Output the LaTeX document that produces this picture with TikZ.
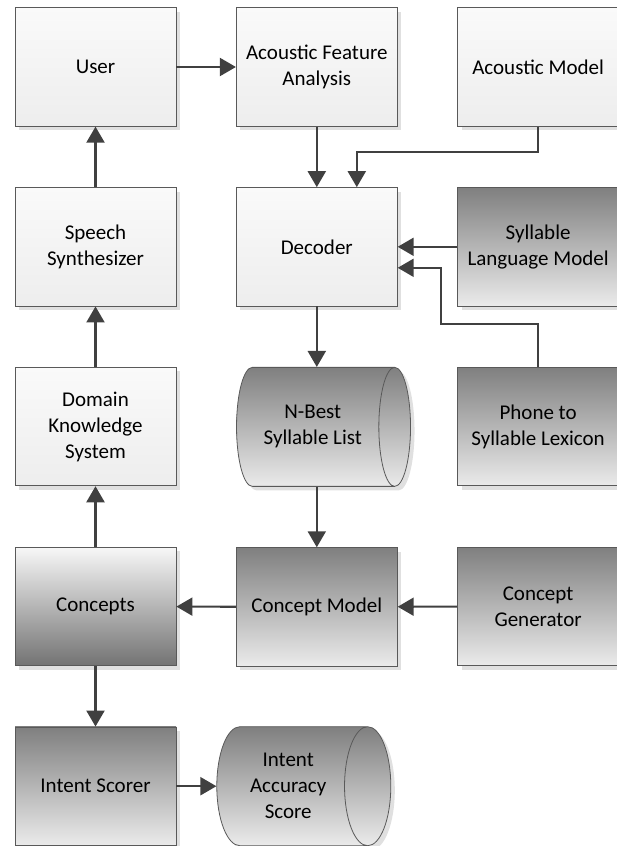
\documentclass[tikz,border=0pt]{standalone}
\usepackage{fontspec}
\setmainfont{Carlito}
\usetikzlibrary{positioning,shapes.geometric,shadows,arrows.meta}
\definecolor{edgegray}{HTML}{404040}
\definecolor{linegray}{HTML}{595959}

\begin{document}
\begin{tikzpicture}[node distance={60.5pt and 59.5pt},
    main/.style = {draw=linegray, line width=0.8pt, rectangle, minimum width=161pt, minimum height=118.5pt, align=center, font=\fontsize{21}{26}\selectfont, drop shadow={shadow xshift=4pt, shadow yshift=-4pt, fill=black!12, opacity=1}},
    light/.style = {main, top color=white!98!black, bottom color=white!93!black},
    dark/.style = {main, top color=black!50, bottom color=white!92!black},
    inv/.style = {main, top color=white!97!black, bottom color=black!55},
    store/.style = {dark, cylinder, shape border rotate=0, aspect=0.64, minimum width=119pt, minimum height=174pt},
    flow/.style = {draw=edgegray, line width=2.1pt, -{Triangle[length=16pt,width=18pt]}}]
            \useasboundingbox (0,0) rectangle (616pt,-846pt);

            \node[light] (user) at (95.5pt,-67pt) {User};
            \node[light] (afa) [right=of user] {Acoustic Feature\\Analysis};
            \node[light] (am) [right=of afa] {Acoustic Model};

            \node[light] (synth) [below=of user] {Speech\\Synthesizer};
            \node[light] (dec) [below=of afa] {Decoder};
            \node[dark] (slm) [below=of am] {Syllable\\Language Model};

            \node[light] (dks) [below=of synth] {Domain\\Knowledge\\System};
            \node[store] (nbest) [below=of dec, xshift=-4pt] {N-Best\\Syllable List};
            \node[dark] (lex) [below=of slm] {Phone to\\Syllable Lexicon};

            \node[inv] (con) [below=of dks] {Concepts};
            \node[dark] (cm) [below=of dec |- nbest.south] {Concept Model};
            \node[dark] (cg) [below=of lex] {Concept\\Generator};

            \node[dark] (scorer) [below=of con] {Intent Scorer};
            \node[store] (score) [right=40pt of scorer] {Intent\\Accuracy\\Score};

            \draw[flow] (user) -- (afa);
            \draw[flow] (afa) -- (dec);
            \draw[flow] (am.south) -- ++(0,-25pt) -| ([xshift=40pt]dec.north);
            \draw[flow] (slm) -- (dec);
            \draw[flow] (lex.north) -- ++(0,43pt) -| ([xshift=43pt,yshift=-21pt]dec.east) -- ([yshift=-21pt]dec.east);
            \draw[flow] (dec.south) -- (dec.south |- nbest.north);
            \draw[flow] (dec.south |- nbest.south) -- (cm.north);
            \draw[flow] (cg) -- (cm);
            \draw[flow] (cm) -- (con);
            \draw[flow] (con) -- (dks);
            \draw[flow] (dks) -- (synth);
            \draw[flow] (synth) -- (user);
            \draw[flow] (con) -- (scorer);
            \draw[flow] (scorer.east) -- (scorer.east -| score.west);

        \end{tikzpicture}
\end{document}
